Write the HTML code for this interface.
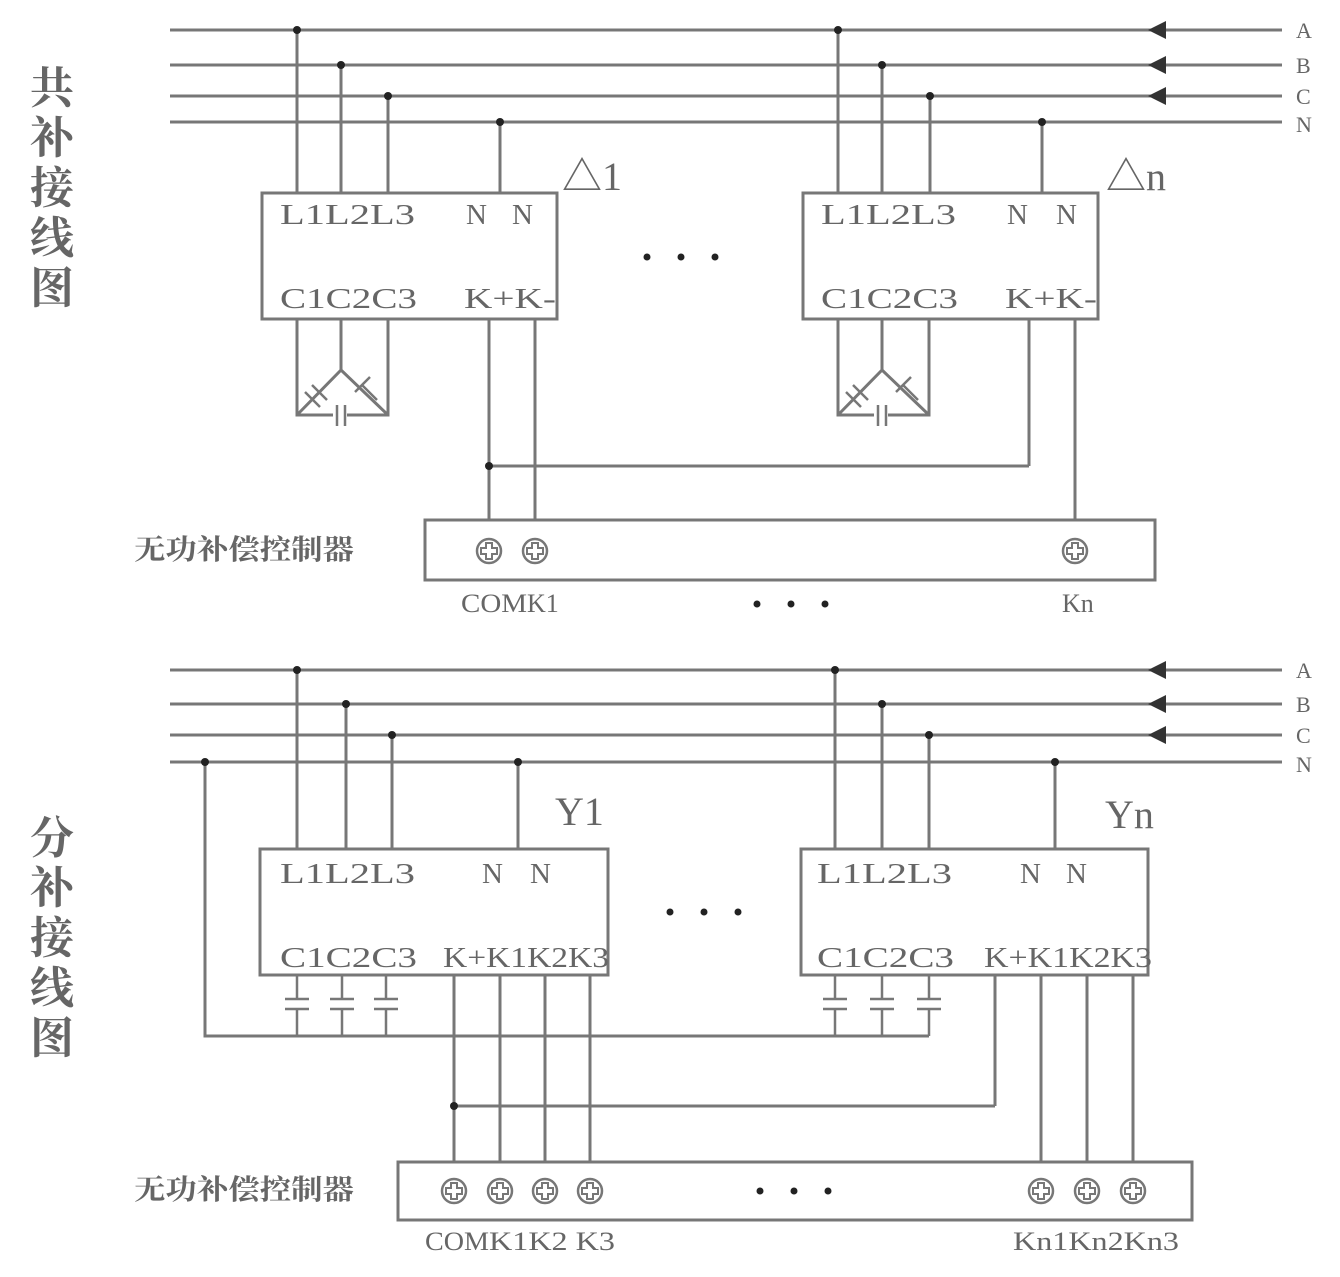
<!DOCTYPE html>
<html><head><meta charset="utf-8"><style>
body{margin:0;background:#fff}
svg{display:block}
text{font-family:"Liberation Serif","Noto Serif CJK SC",serif;fill:#666}
.cj{font-family:"Liberation Sans","Noto Sans CJK SC",sans-serif;fill:#555}
</style></head><body>
<svg width="1340" height="1277" viewBox="0 0 1340 1277" xmlns="http://www.w3.org/2000/svg">
<defs>
<g id="term"><circle r="12" fill="none" stroke="#777" stroke-width="2.5"/><path d="M-3,-8h6v5h5v6h-5v5h-6v-5h-5v-6h5z" fill="none" stroke="#777" stroke-width="2"/></g>
<g id="cap" stroke="#777" stroke-width="2.5"><line x1="0" y1="0" x2="0" y2="24"/><line x1="-12" y1="24" x2="12" y2="24"/><line x1="-12" y1="34" x2="12" y2="34"/><line x1="0" y1="34" x2="0" y2="61"/></g>
</defs>
<g stroke="#777" stroke-width="3" fill="none">
<line x1="170" y1="30" x2="1282" y2="30"/><line x1="170" y1="65" x2="1282" y2="65"/>
<line x1="170" y1="96" x2="1282" y2="96"/><line x1="170" y1="122" x2="1282" y2="122"/>
<line x1="297" y1="30" x2="297" y2="193"/><line x1="341" y1="65" x2="341" y2="193"/><line x1="388" y1="96" x2="388" y2="193"/><line x1="500" y1="122" x2="500" y2="193"/>
<line x1="838" y1="30" x2="838" y2="193"/><line x1="882" y1="65" x2="882" y2="193"/><line x1="930" y1="96" x2="930" y2="193"/><line x1="1042" y1="122" x2="1042" y2="193"/>
<rect x="262" y="193" width="295" height="126"/><rect x="803" y="193" width="295" height="126"/>
<path d="M297,319V415H388V319M341,319V370L297,415M341,370L388,415"/>
<path d="M838,319V415H929V319M882,319V370L838,415M882,370L929,415"/>
<line x1="489" y1="319" x2="489" y2="520"/><line x1="535" y1="319" x2="535" y2="520"/>
<line x1="1029" y1="319" x2="1029" y2="466"/><line x1="1075" y1="319" x2="1075" y2="520"/>
<line x1="489" y1="466" x2="1029" y2="466"/>
<rect x="425" y="520" width="730" height="60"/>
<line x1="170" y1="670" x2="1282" y2="670"/><line x1="170" y1="704" x2="1282" y2="704"/>
<line x1="170" y1="735" x2="1282" y2="735"/><line x1="170" y1="762" x2="1282" y2="762"/>
<line x1="297" y1="670" x2="297" y2="849"/><line x1="346" y1="704" x2="346" y2="849"/><line x1="392" y1="735" x2="392" y2="849"/><line x1="518" y1="762" x2="518" y2="849"/>
<line x1="835" y1="670" x2="835" y2="849"/><line x1="882" y1="704" x2="882" y2="849"/><line x1="929" y1="735" x2="929" y2="849"/><line x1="1055" y1="762" x2="1055" y2="849"/>
<rect x="260" y="849" width="348" height="126"/><rect x="801" y="849" width="347" height="126"/>
<path d="M205,762V1036H929"/>
<line x1="454" y1="975" x2="454" y2="1162"/><line x1="500" y1="975" x2="500" y2="1162"/><line x1="545" y1="975" x2="545" y2="1162"/><line x1="590" y1="975" x2="590" y2="1162"/>
<line x1="995" y1="975" x2="995" y2="1106"/><line x1="454" y1="1106" x2="995" y2="1106"/>
<line x1="1041" y1="975" x2="1041" y2="1162"/><line x1="1087" y1="975" x2="1087" y2="1162"/><line x1="1133" y1="975" x2="1133" y2="1162"/>
<rect x="398" y="1162" width="794" height="58"/>
</g>
<g stroke="#777" stroke-width="2.5" fill="#fff">
<rect x="333" y="404" width="14" height="22" stroke="none"/><line x1="337" y1="405" x2="337" y2="426"/><line x1="345" y1="405" x2="345" y2="426"/>
<rect x="874" y="404" width="14" height="22" stroke="none"/><line x1="878" y1="405" x2="878" y2="426"/><line x1="886" y1="405" x2="886" y2="426"/>
<line x1="305" y1="392" x2="320" y2="407"/><line x1="312" y1="385" x2="327" y2="400"/>
<line x1="362" y1="385" x2="377" y2="400"/><line x1="355" y1="392" x2="370" y2="377"/>
<line x1="846" y1="392" x2="861" y2="407"/><line x1="853" y1="385" x2="868" y2="400"/>
<line x1="903" y1="385" x2="918" y2="400"/><line x1="896" y1="392" x2="911" y2="377"/>
</g>
<g fill="#fff">
<rect x="283" y="995" width="120" height="14" stroke="none"/><rect x="820" y="995" width="125" height="14" stroke="none"/>
</g>
<use href="#cap" x="297" y="975"/><use href="#cap" x="342" y="975"/><use href="#cap" x="386" y="975"/>
<use href="#cap" x="835" y="975"/><use href="#cap" x="882" y="975"/><use href="#cap" x="929" y="975"/>
<g fill="#333">
<path d="M1148,30l18,-9v18z"/><path d="M1148,65l18,-9v18z"/><path d="M1148,96l18,-9v18z"/>
<path d="M1148,670l18,-9v18z"/><path d="M1148,704l18,-9v18z"/><path d="M1148,735l18,-9v18z"/>
</g>
<g fill="#222">
<circle cx="297" cy="30" r="4"/><circle cx="341" cy="65" r="4"/><circle cx="388" cy="96" r="4"/><circle cx="500" cy="122" r="4"/>
<circle cx="838" cy="30" r="4"/><circle cx="882" cy="65" r="4"/><circle cx="930" cy="96" r="4"/><circle cx="1042" cy="122" r="4"/>
<circle cx="489" cy="466" r="4"/>
<circle cx="297" cy="670" r="4"/><circle cx="346" cy="704" r="4"/><circle cx="392" cy="735" r="4"/><circle cx="518" cy="762" r="4"/><circle cx="205" cy="762" r="4"/>
<circle cx="835" cy="670" r="4"/><circle cx="882" cy="704" r="4"/><circle cx="929" cy="735" r="4"/><circle cx="1055" cy="762" r="4"/>
<circle cx="454" cy="1106" r="4"/>
<circle cx="647" cy="257" r="3.5"/><circle cx="681" cy="257" r="3.5"/><circle cx="715" cy="257" r="3.5"/>
<circle cx="757" cy="604" r="3.5"/><circle cx="791" cy="604" r="3.5"/><circle cx="825" cy="604" r="3.5"/>
<circle cx="670" cy="912" r="3.5"/><circle cx="704" cy="912" r="3.5"/><circle cx="738" cy="912" r="3.5"/>
<circle cx="760" cy="1191" r="3.5"/><circle cx="794" cy="1191" r="3.5"/><circle cx="828" cy="1191" r="3.5"/>
</g>
<use href="#term" x="489" y="551"/><use href="#term" x="535" y="551"/><use href="#term" x="1075" y="551"/>
<use href="#term" x="454" y="1191"/><use href="#term" x="500" y="1191"/><use href="#term" x="545" y="1191"/><use href="#term" x="590" y="1191"/>
<use href="#term" x="1041" y="1191"/><use href="#term" x="1087" y="1191"/><use href="#term" x="1133" y="1191"/>
<g font-size="22">
<text x="1296" y="38">A</text><text x="1296" y="73">B</text><text x="1296" y="104">C</text><text x="1296" y="132">N</text>
<text x="1296" y="678">A</text><text x="1296" y="712">B</text><text x="1296" y="743">C</text><text x="1296" y="772">N</text>
</g>
<g font-size="29">
<text x="280" y="224" textLength="135" lengthAdjust="spacingAndGlyphs">L1L2L3</text><text x="466" y="224">N</text><text x="512" y="224">N</text>
<text x="280" y="308" textLength="137" lengthAdjust="spacingAndGlyphs">C1C2C3</text><text x="464" y="308" textLength="92" lengthAdjust="spacingAndGlyphs">K+K-</text>
<text x="821" y="224" textLength="135" lengthAdjust="spacingAndGlyphs">L1L2L3</text><text x="1007" y="224">N</text><text x="1056" y="224">N</text>
<text x="821" y="308" textLength="137" lengthAdjust="spacingAndGlyphs">C1C2C3</text><text x="1005" y="308" textLength="92" lengthAdjust="spacingAndGlyphs">K+K-</text>
<text x="280" y="883" textLength="135" lengthAdjust="spacingAndGlyphs">L1L2L3</text><text x="482" y="883">N</text><text x="530" y="883">N</text>
<text x="280" y="967" textLength="137" lengthAdjust="spacingAndGlyphs">C1C2C3</text><text x="443" y="967" textLength="166" lengthAdjust="spacingAndGlyphs">K+K1K2K3</text>
<text x="817" y="883" textLength="135" lengthAdjust="spacingAndGlyphs">L1L2L3</text><text x="1020" y="883">N</text><text x="1066" y="883">N</text>
<text x="817" y="967" textLength="137" lengthAdjust="spacingAndGlyphs">C1C2C3</text><text x="984" y="967" textLength="168" lengthAdjust="spacingAndGlyphs">K+K1K2K3</text>
</g>
<g font-size="26">
<text x="461" y="612" textLength="66" lengthAdjust="spacingAndGlyphs">COM</text><text x="527" y="612">K1</text><text x="1062" y="612">Kn</text>
<text x="425" y="1250" textLength="64" lengthAdjust="spacingAndGlyphs">COM</text><text x="489" y="1250" textLength="126" lengthAdjust="spacingAndGlyphs">K1K2 K3</text>
<text x="1013" y="1250" textLength="166" lengthAdjust="spacingAndGlyphs">Kn1Kn2Kn3</text>
</g>
<g font-size="40" fill="#555">
<text x="562" y="190">△1</text><text x="1106" y="190">△n</text>
<text x="555" y="825">Y1</text><text x="1105" y="828">Yn</text>
</g>
<g class="cj" font-size="28" font-weight="bold" style="fill:#555">
<text x="134" y="559" textLength="220" lengthAdjust="spacingAndGlyphs">无功补偿控制器</text><text x="134" y="1199" textLength="220" lengthAdjust="spacingAndGlyphs">无功补偿控制器</text>
</g>
<g class="cj" font-size="44" font-weight="bold" style="fill:#222">
<text x="30" y="103">共</text><text x="30" y="153">补</text><text x="30" y="203">接</text><text x="30" y="253">线</text><text x="30" y="303">图</text>
<text x="30" y="853">分</text><text x="30" y="903">补</text><text x="30" y="953">接</text><text x="30" y="1003">线</text><text x="30" y="1053">图</text>
</g>
</svg>
</body></html>
